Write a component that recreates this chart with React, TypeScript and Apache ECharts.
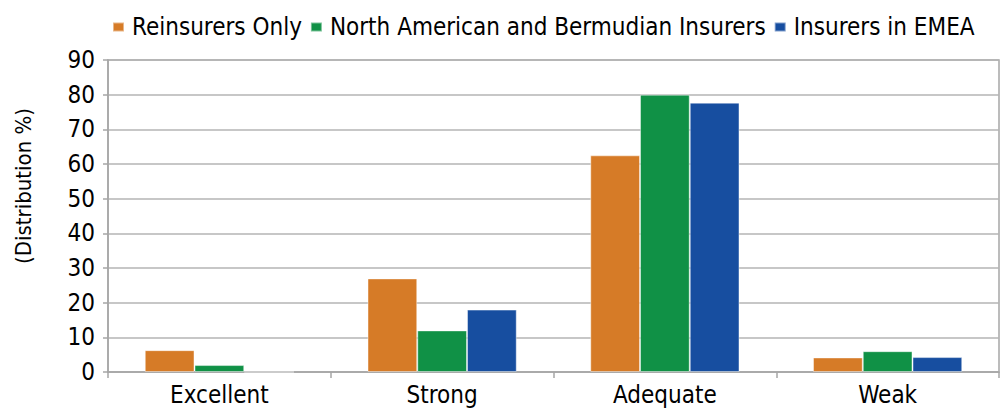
import React, { useEffect, useRef } from "react";
import * as echarts from "echarts";

const categories = ["Excellent", "Strong", "Adequate", "Weak"];
const seriesNames = ["Reinsurers Only", "North American and Bermudian Insurers", "Insurers in EMEA"];
const reinsurersOnly = [6.3, 27, 62.5, 4.2];
const northAmerican = [2, 12, 80, 6];
const insurersEMEA = [0, 18, 77.7, 4.3];
const yTicks = [0, 10, 20, 30, 40, 50, 60, 70, 80, 90];
const colors = ["#D67B27", "#109146", "#174EA0"];

const FONT = "'DejaVu Sans Condensed', 'Liberation Sans Narrow', 'DejaVu Sans', sans-serif";

export default function App() {
  const ref = useRef<HTMLDivElement>(null);
  useEffect(() => {
    if (!ref.current) return;
    const chart = echarts.init(ref.current, undefined, { renderer: "svg" });
    const data = [reinsurersOnly, northAmerican, insurersEMEA];
    chart.setOption({
      animation: false,
      textStyle: { fontFamily: FONT },
      legend: {
        left: 107,
        top: 10,
        itemWidth: 11,
        itemHeight: 9,
        itemGap: 8,
        icon: "rect",
        textStyle: { fontFamily: FONT, fontSize: 24, color: "#000", padding: [0, 0, 0, 3] },
        data: seriesNames,
      },
      grid: {
        left: 108,
        right: 2,
        top: 60,
        bottom: 40,
        show: true,
        borderColor: "#a6a6a6",
        borderWidth: 1.5,
      },
      xAxis: {
        type: "category",
        data: categories,
        axisLine: { show: true, lineStyle: { color: "#a6a6a6", width: 1.5 } },
        axisTick: { show: true, length: 6, lineStyle: { color: "#a6a6a6", width: 1.5 } },
        axisLabel: { fontFamily: FONT, fontSize: 24, color: "#000", margin: 11 },
      },
      yAxis: {
        type: "value",
        min: yTicks[0],
        max: yTicks[yTicks.length - 1],
        interval: 10,
        axisLine: { show: true, lineStyle: { color: "#a6a6a6", width: 1.5 } },
        axisTick: { show: true, length: 5, lineStyle: { color: "#a6a6a6", width: 1.5 } },
        axisLabel: { fontFamily: FONT, fontSize: 24, color: "#000", margin: 13 },
        splitLine: { show: true, lineStyle: { color: "#b4b4b4", width: 1.5 } },
      },
      graphic: [
        {
          type: "text",
          x: 12,
          y: 186,
          rotation: Math.PI / 2,
          style: {
            text: "(Distribution %)",
            fontFamily: FONT,
            fontSize: 22,
            fill: "#000",
            align: "center",
            verticalAlign: "top",
          },
        },
      ],
      series: seriesNames.map((name, i) => ({
        name,
        type: "bar",
        data: data[i],
        barGap: "0%",
        barCategoryGap: "33%",
        itemStyle: { color: colors[i], borderColor: "rgba(255,255,255,0.45)", borderWidth: 1 },
      })),
    });
    return () => chart.dispose();
  }, []);
  return <div ref={ref} style={{ width: 1001, height: 412, position: "absolute", left: 0, top: 0 }} />;
}
